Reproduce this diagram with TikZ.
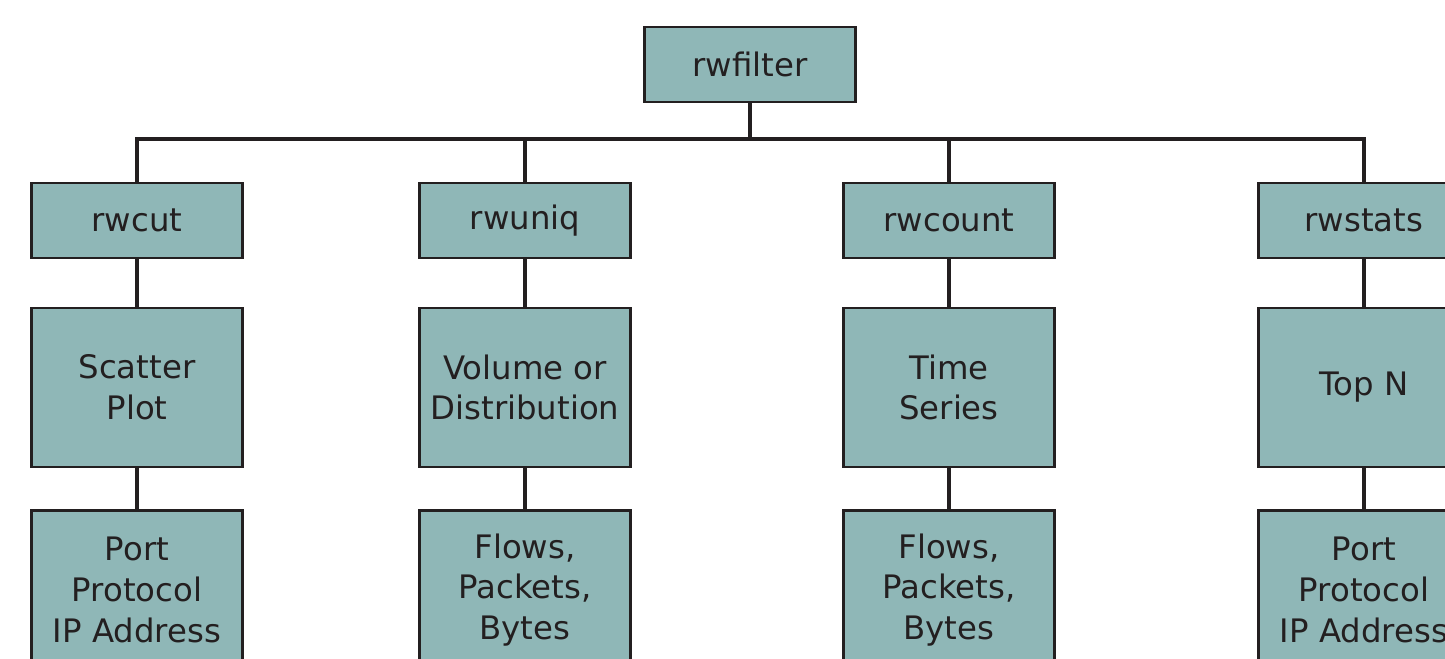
\documentclass[tikz,border=0pt]{standalone}
\usepackage{fontspec}
\setmainfont{DejaVu Sans}
\definecolor{boxteal}{RGB}{143,183,183}
\definecolor{inkgray}{RGB}{35,31,32}
\tikzset{
  toolbox/.style={draw=inkgray,line width=2pt,fill=boxteal,
    minimum width=5.275cm,minimum height=1.875cm,inner sep=0pt,
    align=center,text=inkgray,font=\fontsize{23}{29}\selectfont},
  tallbox/.style={toolbox,minimum height=3.975cm},
  link/.style={inkgray,line width=3.4pt}
}
\begin{document}
\begin{tikzpicture}[x=0.025cm,y=-0.025cm]
		\useasboundingbox (0,0) rectangle (1445,658);
		\clip (0,0) rectangle (1445,658);
		\node[toolbox] (filter) at (750,64.5) {rwfilter};
		\coordinate (bus) at (750,139);
		\foreach \name/\x/\tool/\kind/\field in {
		    cut/137/rwcut/{Scatter\\Plot}/{Port\\Protocol\\IP Address},
		    uniq/525/rwuniq/{Volume or\\Distribution}/{Flows,\\Packets,\\Bytes},
		    count/949/rwcount/{Time\\Series}/{Flows,\\Packets,\\Bytes},
		    stats/1364/rwstats/{Top N}/{Port\\Protocol\\IP Address}}
		{
		  \node[toolbox] (\name) at (\x,220.5) {\tool};
		  \node[tallbox] (\name-kind) at (\x,387.5) {\kind};
		  \node[tallbox] (\name-field) at (\x,590) {\field};
		  \draw[link] (\name.south) -- (\name-kind.north);
		  \draw[link] (\name-kind.south) -- (\name-field.north);
		}
		\draw[link] (filter.south) -- (bus);
		\draw[link] (cut.north) |- (stats.north |- bus) -- (stats.north);
		\draw[link] (uniq.north) -- (uniq.north |- bus);
		\draw[link] (count.north) -- (count.north |- bus);
\end{tikzpicture}
\end{document}
